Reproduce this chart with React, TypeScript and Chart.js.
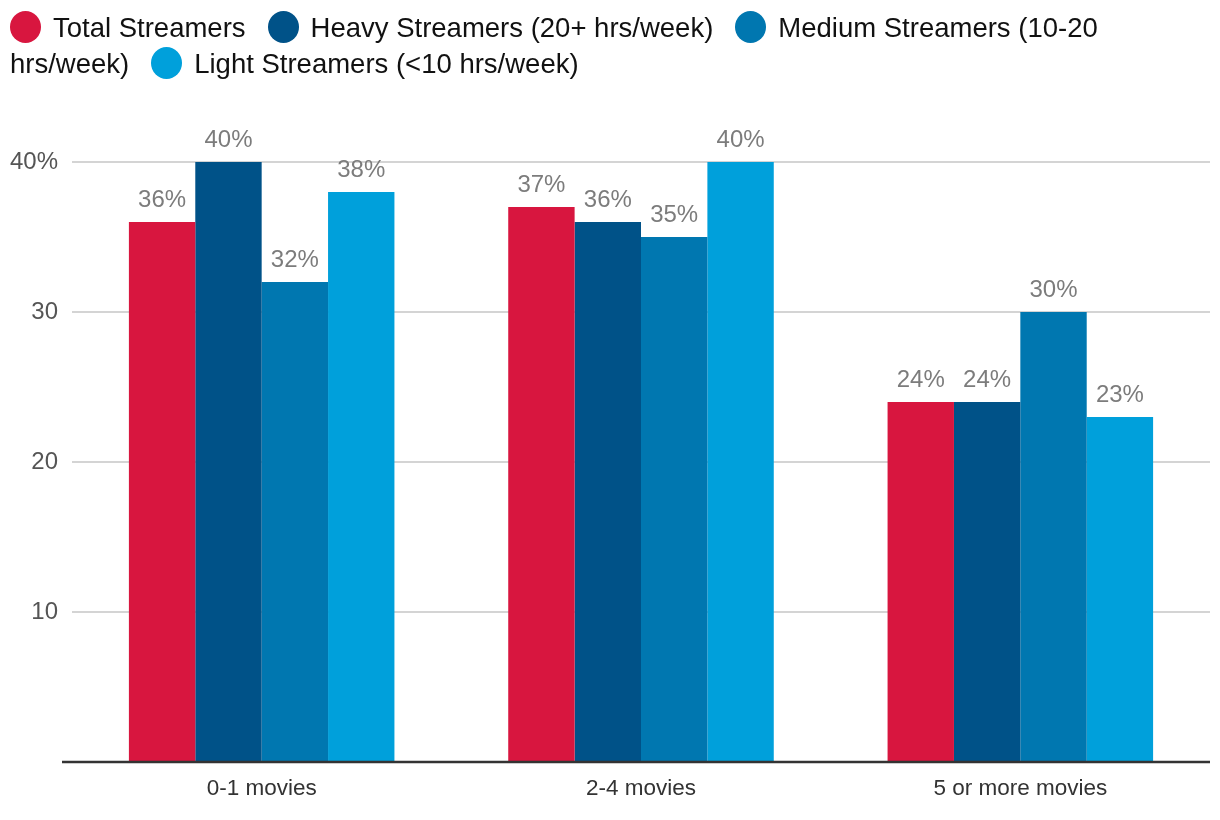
import React, { useEffect, useRef } from "react";
import { Chart, registerables } from "chart.js";

Chart.register(...registerables);

const categories = ["0-1 movies", "2-4 movies", "5 or more movies"];
const seriesNames = [
  "Total Streamers",
  "Heavy Streamers (20+ hrs/week)",
  "Medium Streamers (10-20 hrs/week)",
  "Light Streamers (<10 hrs/week)",
];
const totalValues = [36, 37, 24];
const heavyValues = [40, 36, 24];
const mediumValues = [32, 35, 30];
const lightValues = [38, 40, 23];
const seriesColors = ["#d8163f", "#005288", "#0077b0", "#00a0db"];
const yTicks = [10, 20, 30, 40];

const FONT = "'Liberation Sans', Arial, sans-serif";

export default function App() {
  const canvasRef = useRef<HTMLCanvasElement | null>(null);

  useEffect(() => {
    const canvas = canvasRef.current;
    if (!canvas) return;
    const values = [totalValues, heavyValues, mediumValues, lightValues];

    const labelPlugin = {
      id: "valueLabels",
      afterDatasetsDraw(chart: any) {
        const ctx = chart.ctx;
        ctx.save();
        ctx.font = `24px ${FONT}`;
        ctx.fillStyle = "#7c7c7c";
        ctx.textAlign = "center";
        ctx.textBaseline = "alphabetic";
        chart.data.datasets.forEach((ds: any, i: number) => {
          const meta = chart.getDatasetMeta(i);
          meta.data.forEach((bar: any, j: number) => {
            ctx.fillText(ds.data[j] + "%", bar.x, bar.y - 15);
          });
        });
        ctx.restore();
      },
    };

    const baselinePlugin = {
      id: "baseline",
      afterDatasetsDraw(chart: any) {
        const ctx = chart.ctx;
        const y = chart.scales.y.getPixelForValue(0);
        ctx.save();
        ctx.strokeStyle = "#333333";
        ctx.lineWidth = 2.5;
        ctx.beginPath();
        ctx.moveTo(62, y);
        ctx.lineTo(chart.chartArea.right, y);
        ctx.stroke();
        ctx.restore();
      },
    };

    const chart = new Chart(canvas, {
      type: "bar",
      data: {
        labels: categories,
        datasets: seriesNames.map((name, i) => ({
          label: name,
          data: values[i],
          backgroundColor: seriesColors[i],
          borderWidth: 0,
          categoryPercentage: 0.7,
          barPercentage: 1.0,
        })),
      },
      options: {
        animation: false,
        responsive: false,
        maintainAspectRatio: false,
        layout: { padding: { top: 162, left: 0, right: 10, bottom: 0 } },
        plugins: {
          legend: { display: false },
          tooltip: { enabled: false },
        },
        scales: {
          x: {
            grid: { display: false, drawTicks: false },
            border: { display: false },
            ticks: {
              color: "#333333",
              font: { family: FONT, size: 22.5 },
              padding: 13,
              maxRotation: 0,
            },
            afterFit(scale: any) {
              scale.height = 58;
            },
          },
          y: {
            min: 0,
            max: 40,
            afterBuildTicks(scale: any) {
              scale.ticks = [0, ...yTicks].map((v) => ({ value: v }));
            },
            grid: {
              drawTicks: false,
              lineWidth: 2,
              color: (ctx: any) =>
                ctx.tick && ctx.tick.value === 0 ? "rgba(0,0,0,0)" : "#d4d4d4",
            },
            border: { display: false },
            ticks: {
              color: "#555555",
              font: { family: FONT, size: 24 },
              padding: 14,
              callback: (v: any) => (v === 0 ? "" : v === 40 ? "40%" : String(v)),
            },
            afterFit(scale: any) {
              scale.width = 72;
            },
          },
        },
      },
      plugins: [labelPlugin, baselinePlugin],
    });
    return () => chart.destroy();
  }, []);

  return (
    <div
      style={{
        position: "absolute",
        left: 0,
        top: 0,
        width: 1220,
        height: 820,
        background: "#fff",
        overflow: "hidden",
      }}
    >
      <canvas
        ref={canvasRef}
        width={1220}
        height={820}
        style={{ position: "absolute", left: 0, top: 0, width: 1220, height: 820 }}
      />
      <div
        style={{
          position: "absolute",
          left: 10,
          top: 10,
          width: 1110,
          fontFamily: FONT,
          fontSize: 27.5,
          lineHeight: "36px",
          color: "#111",
        }}
      >
        {seriesNames.map((name, i) => (
          <span key={name}>
            <span
              style={{
                display: "inline-block",
                width: 31,
                height: 32,
                borderRadius: "50%",
                background: seriesColors[i],
                verticalAlign: "-6px",
                marginRight: 12,
              }}
            />
            {name}
            {i < seriesNames.length - 1 ? (
              <span style={{ display: "inline-block", width: 22 }} />
            ) : null}
          </span>
        ))}
      </div>
    </div>
  );
}
